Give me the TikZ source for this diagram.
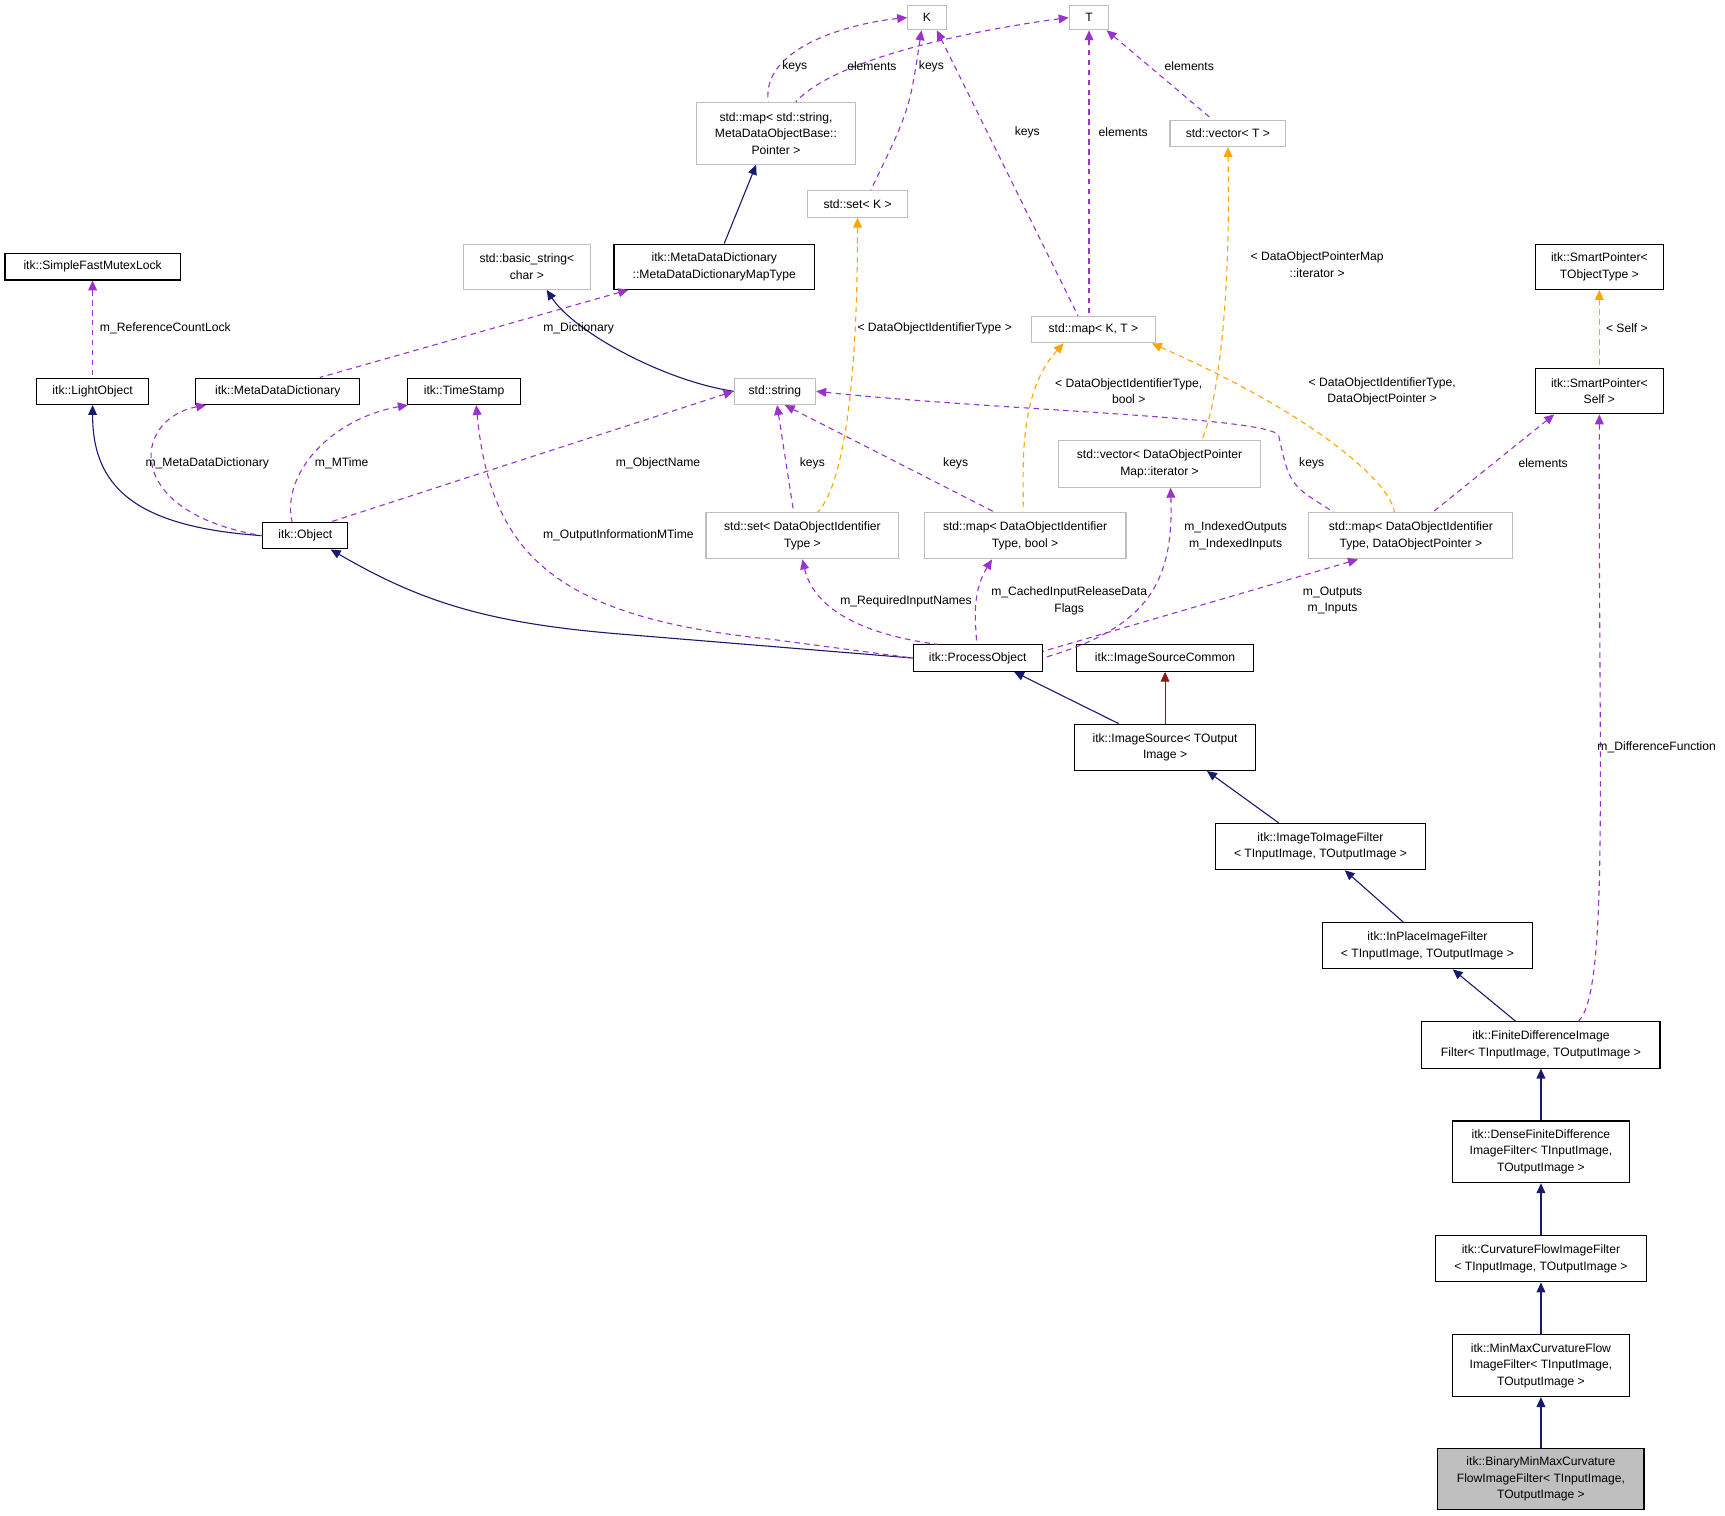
\documentclass[tikz,border=0pt]{standalone}
\usepackage{fontspec}
\setmainfont{Liberation Sans}
\usetikzlibrary{arrows.meta}
\definecolor{gb}{HTML}{BFBFBF}
\definecolor{pu}{HTML}{9A32CD}
\definecolor{nv}{HTML}{191970}
\definecolor{dr}{HTML}{8B1A1A}
\definecolor{orng}{HTML}{FFA500}
\begin{document}
\begin{tikzpicture}[x=1pt,y=-1pt,
  every node/.style={font=\fontsize{11}{15}\selectfont, align=center, inner sep=1pt},
  bx/.style={draw=black, line width=1pt, fill=white, minimum height=24pt},
  gx/.style={draw=gb, line width=1pt, fill=white, minimum height=24pt},
  inh/.style={draw=nv, line width=1pt, {Triangle[length=9pt,width=8pt]}-},
  red/.style={draw=dr, line width=1pt, {Triangle[length=9pt,width=8pt]}-},
  use/.style={draw=pu, line width=1pt, dash pattern=on 5pt off 4pt, {Triangle[length=9pt,width=8pt]}-},
  tpl/.style={draw=orng, line width=1pt, dash pattern=on 5pt off 4pt, {Triangle[length=9pt,width=8pt]}-},
  lbl/.style={fill=none}]
\useasboundingbox (0,0) rectangle (1565,1374.5);
% nodes
\node[gx,minimum width=35pt,minimum height=22pt] (K) at (841,16) {K};
\node[gx,minimum width=36pt,minimum height=22pt] (T) at (988,16) {T};
\node[gx,minimum width=144pt,minimum height=56pt] (mapstr) at (704,121) {std::map< std::string,\\ MetaDataObjectBase::\\Pointer >};
\node[gx,minimum width=91pt] (setK) at (778,185) {std::set< K >};
\node[gx,minimum width=105pt] (vecT) at (1114,121) {std::vector< T >};
\node[bx,minimum width=159pt] (sfml) at (84,242) {itk::SimpleFastMutexLock};
\node[gx,minimum width=115pt,minimum height=41pt] (bstr) at (478,242) {std::basic\_string<\\char >};
\node[bx,minimum width=182pt,minimum height=41pt] (mddmt) at (648,242) {itk::MetaDataDictionary\\::MetaDataDictionaryMapType};
\node[gx,minimum width=112pt] (mapKT) at (992,299) {std::map< K, T >};
\node[bx,minimum width=116pt,minimum height=41pt] (spto) at (1451,242) {itk::SmartPointer<\\TObjectType >};
\node[bx,minimum width=102pt] (light) at (84,355) {itk::LightObject};
\node[bx,minimum width=149pt] (mdd) at (252,355) {itk::MetaDataDictionary};
\node[bx,minimum width=102pt] (ts) at (421,355) {itk::TimeStamp};
\node[gx,minimum width=74pt] (str) at (703,355) {std::string};
\node[bx,minimum width=116pt,minimum height=41pt] (spself) at (1451,355) {itk::SmartPointer<\\Self >};
\node[gx,minimum width=183pt,minimum height=42pt] (vdopm) at (1052,421) {std::vector< DataObjectPointer\\Map::iterator >};
\node[bx,minimum width=77pt] (obj) at (277,486) {itk::Object};
\node[gx,minimum width=175pt,minimum height=42pt] (setdoit) at (728,486) {std::set< DataObjectIdentifier\\Type >};
\node[gx,minimum width=183pt,minimum height=42pt] (mapbool) at (930,486) {std::map< DataObjectIdentifier\\Type, bool >};
\node[gx,minimum width=185pt,minimum height=42pt] (mapdop) at (1280,486) {std::map< DataObjectIdentifier\\Type, DataObjectPointer >};
\node[bx,minimum width=117pt] (po) at (887,597) {itk::ProcessObject};
\node[bx,minimum width=160pt] (isc) at (1057,597) {itk::ImageSourceCommon};
\node[bx,minimum width=164pt,minimum height=42pt] (is) at (1057,678) {itk::ImageSource< TOutput\\Image >};
\node[bx,minimum width=191pt,minimum height=42pt] (i2i) at (1198,768) {itk::ImageToImageFilter\\< TInputImage, TOutputImage >};
\node[bx,minimum width=191pt,minimum height=42pt] (inpl) at (1295,858) {itk::InPlaceImageFilter\\< TInputImage, TOutputImage >};
\node[bx,minimum width=216pt,minimum height=42pt] (fdif) at (1398,948) {itk::FiniteDifferenceImage\\Filter< TInputImage, TOutputImage >};
\node[bx,minimum width=160pt,minimum height=56pt] (dense) at (1398,1045) {itk::DenseFiniteDifference\\ImageFilter< TInputImage,\\TOutputImage >};
\node[bx,minimum width=191pt,minimum height=42pt] (curv) at (1398,1142) {itk::CurvatureFlowImageFilter\\< TInputImage, TOutputImage >};
\node[bx,minimum width=160pt,minimum height=56pt] (mm) at (1398,1239) {itk::MinMaxCurvatureFlow\\ImageFilter< TInputImage,\\TOutputImage >};
\node[bx,fill=gb,minimum width=187pt,minimum height=55pt] (bin) at (1398,1342) {itk::BinaryMinMaxCurvature\\FlowImageFilter< TInputImage,\\TOutputImage >};
% inheritance
\draw[inh] (mapstr.south -| 686,0) -- (mddmt.north -| 657,0);
\draw[inh] (bstr.south -| 496,0) .. controls (520,300) and (600,345) .. (str.west);
\draw[inh] (light.south) .. controls (84,440) and (120,478) .. (obj.west);
\draw[inh] (obj.south -| 300,0) .. controls (380,545) and (440,565) .. (560,575) -- (po.west);
\draw[inh] (po.south -| 920,0) -- (is.north -| 1015,0);
\draw[red] (isc.south) -- (is.north);
\draw[inh] (is.south -| 1095,0) -- (i2i.north -| 1160,0);
\draw[inh] (i2i.south -| 1220,0) -- (inpl.north -| 1273,0);
\draw[inh] (inpl.south -| 1318,0) -- (fdif.north -| 1375,0);
\draw[inh] (fdif.south) -- (dense.north);
\draw[inh] (dense.south) -- (curv.north);
\draw[inh] (curv.south) -- (mm.north);
\draw[inh] (mm.south) -- (bin.north);
% usage
\draw[use] (K.west) .. controls (780,20) and (690,40) .. (mapstr.north -| 697,0);
\draw[use] (T.west) .. controls (900,25) and (760,50) .. (mapstr.north -| 722,0);
\draw[use] (K.south -| 836,0) .. controls (825,100) .. (setK.north -| 790,0);
\draw[use] (K.south -| 850,0) -- (mapKT.north -| 978,0);
\draw[use] (T.south) -- (mapKT.north -| 988,0);
\draw[use] (T.south -| 1004,0) -- (vecT.north -| 1100,0);
\draw[use] (sfml.south) -- (light.north);
\draw[use] (mddmt.south -| 570,0) -- (mdd.north -| 290,0);
\draw[use] (mdd.south -| 187,0) .. controls (120,380) and (110,465) .. (obj.west);
\draw[use] (ts.south -| 370,0) .. controls (300,380) and (255,430) .. (obj.north -| 265,0);
\draw[use] (str.west) -- (obj.north -| 300,0);
\draw[use] (str.south -| 705,0) -- (setdoit.north -| 720,0);
\draw[use] (str.south -| 712,0) -- (mapbool.north -| 902,0);
\draw[use] (str.east) .. controls (900,372) and (1150,378) .. (1160,395) .. controls (1170,440) .. (mapdop.north -| 1210,0);
\draw[use] (spself.south -| 1410,0) -- (mapdop.north -| 1300,0);
\draw[use] (ts.south -| 432,0) .. controls (445,500) and (500,560) .. (700,580) -- (po.west);
\draw[use] (setdoit.south) .. controls (740,560) and (800,578) .. (po.north -| 850,0);
\draw[use] (mapbool.south -| 900,0) .. controls (880,540) and (886,570) .. (po.north -| 886,0);
\draw[use] (vdopm.south -| 1062,0) .. controls (1065,530) and (1040,570) .. (po.east);
\draw[use] (mapdop.south -| 1232,0) -- (946,591);
\draw[use] (spself.south) .. controls (1450,700) and (1460,900) .. (fdif.north -| 1432,0);
% templates
\draw[tpl] (setK.south) .. controls (778,350) and (765,440) .. (setdoit.north -| 742,0);
\draw[tpl] (mapKT.south -| 965,0) .. controls (920,360) and (930,440) .. (mapbool.north -| 928,0);
\draw[tpl] (mapKT.south -| 1045,0) .. controls (1200,380) and (1262,440) .. (mapdop.north -| 1265,0);
\draw[tpl] (vecT.south) .. controls (1117,300) and (1100,380) .. (vdopm.north -| 1090,0);
\draw[tpl] (spto.south) -- (spself.north);
% labels
\node[lbl] (l1) at (721,60) {keys};
\node[lbl] (l2) at (791,60) {elements};
\node[lbl] (l3) at (845,60) {keys};
\node[lbl] (l4) at (932,120) {keys};
\node[lbl] (l5) at (1019,120) {elements};
\node[lbl] (l6) at (1079,60) {elements};
\node[lbl] (l7) at (150,298) {m\_ReferenceCountLock};
\node[lbl] (l8) at (525,298) {m\_Dictionary};
\node[lbl] (l9) at (188,420) {m\_MetaDataDictionary};
\node[lbl] (l10) at (310,420) {m\_MTime};
\node[lbl] (l11) at (597,420) {m\_ObjectName};
\node[lbl] (l12) at (737,420) {keys};
\node[lbl] (l13) at (867,420) {keys};
\node[lbl] (l14) at (1190,420) {keys};
\node[lbl] (l15) at (1400,420) {elements};
\node[lbl] (l16) at (561,486) {m\_OutputInformationMTime};
\node[lbl] (l17) at (822,546) {m\_RequiredInputNames};
\node[lbl] (l18) at (970,545) {m\_CachedInputReleaseData\\Flags};
\node[lbl] (l19) at (1121,486) {m\_IndexedOutputs\\m\_IndexedInputs};
\node[lbl] (l20) at (1209,545) {m\_Outputs\\m\_Inputs};
\node[lbl] (l21) at (1503,678) {m\_DifferenceFunction};
\node[lbl] (l22) at (848,298) {< DataObjectIdentifierType >};
\node[lbl] (l23) at (1024,355) {< DataObjectIdentifierType,\\bool >};
\node[lbl] (l24) at (1254,355) {< DataObjectIdentifierType,\\DataObjectPointer >};
\node[lbl] (l25) at (1195,240) {< DataObjectPointerMap\\::iterator >};
\node[lbl] (l26) at (1476,298) {< Self >};
\end{tikzpicture}
\end{document}
